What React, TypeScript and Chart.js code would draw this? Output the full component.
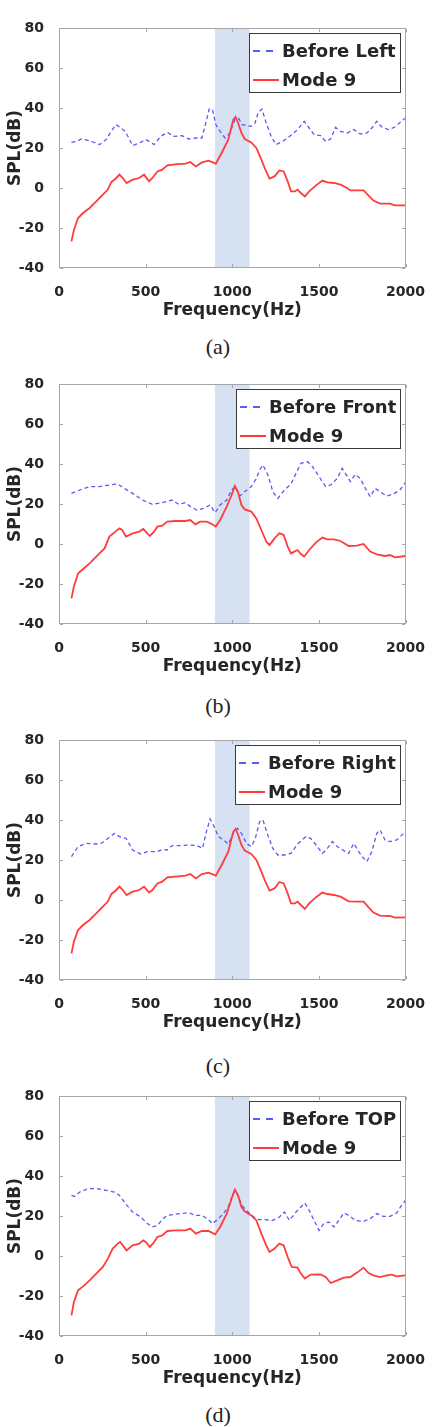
import React, { useEffect, useRef } from 'react';
import { Chart, registerables } from 'chart.js';

Chart.register(...registerables);
Chart.defaults.font.family = '"DejaVu Sans", sans-serif';

// ---- shared axis / labels ----
const xTicks = [0, 500, 1000, 1500, 2000];
const yTicks = [-40, -20, 0, 20, 40, 60, 80];
const bandRange = [900, 1100];
const captions = ['(a)', '(b)', '(c)', '(d)'];
const beforeLabels = ['Before Left', 'Before Front', 'Before Right', 'Before TOP'];
const modeLabel = 'Mode 9';
const xTitle = 'Frequency(Hz)';
const yTitle = 'SPL(dB)';

// ---- (a) ----
const freqBeforeA = [72,101,130,168,196,234,272,301,330,358,383,425,463,501,520,549,587,625,663,710,749,787,825,848,867,886,905,930,958,987,1015,1038,1057,1082,1110,1130,1149,1171,1196,1225,1253,1291,1330,1377,1415,1444,1472,1510,1539,1568,1596,1625,1663,1701,1739,1777,1806,1834,1863,1901,1939,1968,2000];
const splBeforeA = [22.8,23.3,24.5,23.8,23,21.7,24.2,28.3,31.7,30,28.3,21.2,22.5,24.2,23.3,21.7,25.8,27.8,25.8,26.2,24.5,25,25,32.8,39.5,39.2,31.7,28.3,25,27.5,34.2,34.7,31.7,31.2,30.8,32.2,37.5,39.5,32.5,25.8,21.7,23.3,25.8,29.2,33.3,30,26.7,26.2,23.3,24.5,30.3,28.3,27.5,29.2,27,27.5,30,33.3,30.5,29.2,30.5,32.8,35];
const freqModeA = [72,86,110,139,177,215,253,282,301,330,349,368,390,425,463,491,520,539,568,596,625,672,730,758,790,825,863,905,939,977,1006,1019,1034,1053,1072,1110,1139,1168,1187,1215,1244,1272,1297,1320,1339,1362,1377,1396,1419,1444,1482,1520,1549,1587,1625,1663,1682,1720,1758,1787,1815,1853,1910,1939,2000];
const splModeA = [-26.7,-21,-15,-12.5,-10,-6.7,-3.3,-0.8,2.8,5,6.7,5,2.5,4.2,5,6.7,3.3,5,8.3,9.2,11.3,11.8,12.2,13,10.8,12.8,13.7,12.2,17.5,24.2,34.2,35.5,32.5,27.5,24.5,22.8,20,14.2,10,4.7,5.8,8.8,8.3,3.3,-1.7,-1.7,-0.8,-2.5,-4.2,-1.7,1.2,3.7,2.8,2.5,1.7,0,-1.2,-1.2,-1.2,-3.8,-6.3,-7.8,-7.8,-8.7,-8.7];

// ---- (b) ----
const freqBeforeB = [72,120,177,234,291,339,377,425,482,539,596,653,691,730,758,796,834,872,901,930,968,996,1019,1044,1072,1110,1139,1158,1177,1206,1234,1263,1301,1339,1368,1396,1434,1463,1501,1539,1568,1606,1634,1653,1682,1710,1739,1768,1796,1825,1853,1891,1929,1968,2000];
const splBeforeB = [25.3,27,28.7,28.7,29.5,30,27.8,25.3,22,19.8,20.7,22,19.8,20.7,18.7,17,17.8,19.5,15.7,19.5,22,27,28.7,24,26.2,28.7,32.8,37,39.5,34.5,26.2,22.8,27,30,35.3,40.3,41.2,38.7,33.7,28.7,29.5,32.8,37.8,35.3,31.2,34.8,32.8,27.8,23.7,27.8,26.2,24,25,27,30.8];
const freqModeB = [72,86,110,139,177,215,263,291,320,349,364,387,425,463,486,501,524,549,568,596,625,672,730,758,787,815,853,882,905,930,968,996,1015,1034,1053,1072,1110,1139,1168,1196,1215,1244,1272,1297,1320,1339,1358,1377,1396,1415,1444,1482,1520,1549,1587,1625,1672,1720,1758,1796,1834,1882,1910,1939,2000];
const splModeB = [-27.2,-21.3,-14.7,-12.5,-9.7,-6.3,-2.2,3.7,5.8,7.8,7,3.7,5.3,6.2,7.5,6.2,4,6.2,8.7,9.2,11.2,11.5,11.5,12,9.8,11.2,11.2,10,8.7,12,18.7,24.5,29,25.7,19.5,17.3,16.2,12.8,7,1.2,-0.5,2.8,5.3,4.5,-1.3,-4.7,-3.8,-3,-5,-6.3,-3,0.7,3.2,2.3,2.3,1.5,-1,-0.8,0,-3.8,-5.2,-6,-5.5,-6.7,-6];

// ---- (c) ----
const freqBeforeC = [72,110,158,206,244,282,320,349,387,425,472,510,539,568,596,625,653,691,749,796,829,848,872,891,920,949,977,1006,1030,1053,1082,1110,1133,1158,1177,1202,1234,1263,1301,1339,1377,1425,1453,1491,1520,1549,1577,1606,1644,1672,1701,1730,1749,1777,1806,1834,1853,1882,1910,1949,2000];
const splBeforeC = [21.7,26.7,28.3,28,28.3,30.8,33.3,31.7,30.8,25,23,24.2,24.2,24.2,25.3,25,27.2,27.2,27.5,27.2,25.8,33.3,40.5,37.5,31.7,30,28,33.3,35.8,33.3,28.3,26.7,30.8,39.2,40,33.3,25.8,22.5,22.5,23.3,28,31.7,30.8,26.7,23.3,25.8,29.2,26.7,24.7,23.3,28.3,24.2,21.7,19.2,24.2,33.3,35,30,29.2,30,34.2];
const freqModeC = [72,86,110,139,177,215,253,282,301,330,349,368,390,425,463,491,520,539,568,596,625,672,730,758,790,825,863,905,939,977,1006,1019,1034,1053,1072,1110,1139,1168,1187,1215,1244,1272,1297,1320,1339,1362,1377,1396,1419,1444,1482,1520,1549,1587,1625,1672,1720,1758,1787,1815,1853,1910,1939,2000];
const splModeC = [-26.7,-20.8,-15,-12.5,-10,-6.7,-3.3,-0.8,2.8,5,6.7,5,2.5,4.2,5,6.7,3.7,5,8.3,9.2,11.3,11.7,12.2,13,10.8,13,13.7,12.2,17.5,24.2,34.2,35.5,32.5,27.5,24.7,23,20,14.2,10,4.7,5.8,9,8.3,3.3,-1.7,-1.7,-0.8,-2.5,-4.5,-1.7,1.3,3.7,3,2.5,1.7,-0.7,-0.8,-0.8,-3.7,-6.3,-7.8,-8,-8.8,-8.7];

// ---- (d) ----
const freqBeforeD = [72,91,120,168,215,272,320,349,387,425,472,510,539,568,596,625,663,701,749,787,825,863,882,910,949,977,1006,1019,1038,1063,1091,1120,1149,1187,1234,1272,1301,1330,1368,1396,1419,1444,1472,1501,1530,1558,1587,1615,1644,1672,1710,1758,1796,1834,1872,1910,1949,1977,2000];
const splBeforeD = [30.3,29.8,32,33.7,33.7,32.8,32,30.3,25.8,22,19.5,16.2,14.5,15.3,18.2,20.3,20.8,21.2,21.7,20.3,20.3,18.2,16.2,17.8,21.2,24.5,31.2,32.8,28.7,24.5,22,19.8,18.2,18.2,17.8,19.5,22,17.8,22,24.5,26.5,22.8,17.8,12.8,16.5,17,14.5,17.8,21.5,20.3,17.8,17.3,18.7,21.2,19.8,19.8,21.5,25.3,27.8];
const freqModeD = [72,86,110,139,177,215,253,282,310,339,353,368,390,425,463,486,501,524,549,568,596,625,672,730,758,790,825,863,901,930,968,996,1015,1034,1053,1072,1110,1139,1168,1196,1215,1244,1272,1297,1320,1343,1377,1396,1419,1453,1510,1539,1568,1606,1644,1682,1720,1758,1787,1815,1853,1891,1920,1949,2000];
const splModeD = [-29.7,-23,-17.2,-15.2,-12.2,-8.8,-5.5,-1.3,3.7,6.2,7,5.3,2.8,5.3,6.2,7.8,7,4.5,7,9.5,10.3,12.5,12.8,12.8,13.7,11.2,12.5,12.5,10.8,14.5,21.2,28.7,33.2,30.3,24.5,22.3,20.3,17.8,11.2,5.3,2,3.7,6.2,5.3,-0.5,-5.5,-5.8,-8.8,-11.3,-9.3,-9.2,-10.5,-13.5,-12.2,-10.8,-10.5,-8.3,-5.8,-8.5,-9.7,-10.5,-9.7,-9.3,-10.2,-9.7];

// ---- styling ----
const BLUE = '#5a5af5';
const RED = '#ff3c3c';
const BAND = '#d6e1f1';
const FRAME = '#a6a6a6';
const TXT = '#262626';
const CANVAS_W = 433;
const CANVAS_H = 330;

const panels = [
  { chartTop: 28, captionY: 347, label: beforeLabels[0], caption: captions[0], bx: freqBeforeA, by: splBeforeA, mx: freqModeA, my: splModeA },
  { chartTop: 384, captionY: 706, label: beforeLabels[1], caption: captions[1], bx: freqBeforeB, by: splBeforeB, mx: freqModeB, my: splModeB },
  { chartTop: 740, captionY: 1066, label: beforeLabels[2], caption: captions[2], bx: freqBeforeC, by: splBeforeC, mx: freqModeC, my: splModeC },
  { chartTop: 1096, captionY: 1415, label: beforeLabels[3], caption: captions[3], bx: freqBeforeD, by: splBeforeD, mx: freqModeD, my: splModeD },
];

const toPoints = (xs: number[], ys: number[]) =>
  xs.slice(0, Math.min(xs.length, ys.length)).map((x, i) => ({ x, y: ys[i] }));

const bandPlugin = {
  id: 'band',
  beforeDatasetsDraw(chart: any) {
    const { ctx, chartArea, scales } = chart;
    const x0 = scales.x.getPixelForValue(bandRange[0]);
    const x1 = scales.x.getPixelForValue(bandRange[1]);
    ctx.save();
    ctx.fillStyle = BAND;
    ctx.fillRect(x0, chartArea.top, x1 - x0, chartArea.bottom - chartArea.top);
    ctx.restore();
  },
};

const framePlugin = {
  id: 'frame',
  afterDraw(chart: any) {
    const { ctx, chartArea, scales } = chart;
    const L = Math.round(chartArea.left);
    const R = Math.round(chartArea.right);
    const T = Math.round(chartArea.top);
    const B = Math.round(chartArea.bottom);
    ctx.save();
    ctx.fillStyle = FRAME;
    // axes box (filled 1px strips)
    ctx.fillRect(L, T, R - L, 1);
    ctx.fillRect(L, B - 1, R - L, 1);
    ctx.fillRect(L, T, 1, B - T);
    ctx.fillRect(R - 1, T, 1, B - T);
    // inward tick marks
    const tl = 3;
    scales.x.ticks.forEach((t: any) => {
      const px = Math.round(scales.x.getPixelForValue(t.value));
      ctx.fillRect(px, B - 1 - tl, 1, tl);
      ctx.fillRect(px, T + 1, 1, tl);
    });
    scales.y.ticks.forEach((t: any) => {
      const py = Math.round(scales.y.getPixelForValue(t.value));
      ctx.fillRect(L + 1, py, tl, 1);
      ctx.fillRect(R - 1 - tl, py, tl, 1);
    });

    // legend box
    const ds = chart.data.datasets;
    const font = 'bold 18px "DejaVu Sans", sans-serif';
    ctx.font = font;
    const textW = Math.max(...ds.map((d: any) => ctx.measureText(d.label).width));
    const padL = 4, lineLen = 26, gap = 3, padR = 4;
    const boxW = Math.round(padL + lineLen + gap + textW + padR);
    const boxR = R - 6;
    const boxL = boxR - boxW;
    const boxT = T + 5;
    const boxH = 59;
    ctx.fillStyle = '#ffffff';
    ctx.fillRect(boxL, boxT, boxW, boxH);
    ctx.strokeStyle = '#3a3a3a';
    ctx.lineWidth = 1;
    ctx.setLineDash([]);
    ctx.strokeRect(boxL + 0.5, boxT + 0.5, boxW, boxH);
    const rows = [boxT + 18, boxT + 47];
    ds.forEach((d: any, i: number) => {
      const y = rows[i];
      ctx.beginPath();
      ctx.strokeStyle = d.borderColor;
      ctx.lineWidth = 2;
      ctx.setLineDash(d.borderDash && d.borderDash.length ? [7, 6] : []);
      ctx.moveTo(boxL + padL, y);
      ctx.lineTo(boxL + padL + lineLen, y);
      ctx.stroke();
      ctx.setLineDash([]);
      ctx.fillStyle = TXT;
      ctx.font = font;
      ctx.textBaseline = 'middle';
      ctx.textAlign = 'left';
      ctx.fillText(d.label, boxL + padL + lineLen + gap, y + 1);
    });
    ctx.restore();
  },
};

function PanelChart({ p }: { p: (typeof panels)[number] }) {
  const ref = useRef<HTMLCanvasElement>(null);
  useEffect(() => {
    if (!ref.current) return;
    const chart = new Chart(ref.current, {
      type: 'line',
      data: {
        datasets: [
          {
            label: p.label,
            data: toPoints(p.bx, p.by),
            borderColor: BLUE,
            borderWidth: 1.3,
            borderDash: [4, 3],
            pointRadius: 0,
            fill: false,
            tension: 0,
            order: 1,
          },
          {
            label: modeLabel,
            data: toPoints(p.mx, p.my),
            borderColor: RED,
            borderWidth: 1.8,
            pointRadius: 0,
            fill: false,
            tension: 0,
            order: 0,
          },
        ],
      },
      options: {
        responsive: false,
        animation: false,
        events: [],
        layout: { padding: { top: 28, right: 24, left: 0, bottom: 0 } },
        plugins: { legend: { display: false }, tooltip: { enabled: false } },
        scales: {
          x: {
            type: 'linear',
            min: 0,
            max: 2000,
            afterBuildTicks: (s: any) => {
              s.ticks = xTicks.map((v) => ({ value: v }));
            },
            afterFit: (s: any) => {
              s.height = CANVAS_H - 28 - 240;
            },
            grid: { display: false },
            border: { display: false },
            ticks: {
              padding: 8,
              color: TXT,
              font: { size: 14, weight: 'bold' },
              maxRotation: 0,
              autoSkip: false,
              callback: (v: any) => String(v),
            },
            title: {
              display: true,
              text: xTitle,
              color: TXT,
              font: { size: 17, weight: 'bold' },
              padding: { top: 0, bottom: 9 },
            },
          },
          y: {
            type: 'linear',
            min: -40,
            max: 80,
            afterBuildTicks: (s: any) => {
              s.ticks = yTicks.map((v) => ({ value: v }));
            },
            afterFit: (s: any) => {
              s.width = 59;
            },
            grid: { display: false },
            border: { display: false },
            ticks: {
              padding: 7,
              color: TXT,
              font: { size: 14, weight: 'bold' },
              autoSkip: false,
              callback: (v: any) => String(v),
            },
            title: {
              display: true,
              text: yTitle,
              color: TXT,
              font: { size: 17, weight: 'bold' },
              padding: { top: 5, bottom: 0 },
            },
          },
        },
      } as any,
      plugins: [bandPlugin, framePlugin],
    });
    return () => chart.destroy();
  }, [p]);
  return (
    <>
      <canvas
        ref={ref}
        width={CANVAS_W}
        height={CANVAS_H}
        style={{ position: 'absolute', left: 0, top: p.chartTop - 28, width: CANVAS_W, height: CANVAS_H }}
      />
      <div
        style={{
          position: 'absolute',
          left: 168,
          width: 100,
          top: p.captionY - 13,
          height: 26,
          lineHeight: '26px',
          textAlign: 'center',
          fontFamily: '"Liberation Serif", "Times New Roman", serif',
          fontSize: 22,
          color: '#222',
        }}
      >
        {p.caption}
      </div>
    </>
  );
}

export default function App() {
  return (
    <div style={{ position: 'absolute', left: 0, top: 0, width: 433, height: 1427, background: '#fff', overflow: 'hidden' }}>
      {panels.map((p, i) => (
        <PanelChart key={i} p={p} />
      ))}
    </div>
  );
}
